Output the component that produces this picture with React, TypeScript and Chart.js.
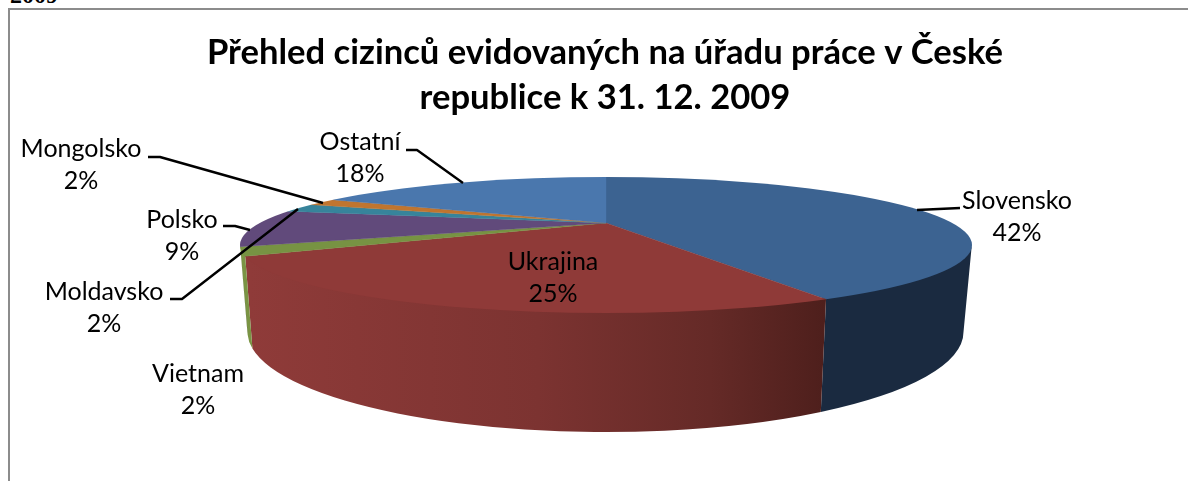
import React, { useEffect, useRef } from "react";
import { Chart, registerables } from "chart.js";

Chart.register(...registerables);

const categories = ["Slovensko", "Ukrajina", "Vietnam", "Polsko", "Moldavsko", "Mongolsko", "Ostatní"];
const shares = [42.2, 25.45, 2.0, 8.5, 2.0, 1.7, 18.15];
const titleLines = ["Přehled cizinců evidovaných na úřadu práce v České", "republice k 31. 12. 2009"];

const topColors = ["#3c6391", "#8f3a38", "#779343", "#614a7b", "#37849b", "#c0752f", "#4a77ad"];
const wallStops: string[][] = [
  ["#1d3049", "#1d3049", "#1c2f47", "#1a2a40"],
  ["#8f3b39", "#7c3331", "#652a27", "#4e1f1c"],
  ["#7a9444", "#7a9444", "#7a9444", "#7a9444"],
  ["#4a3860", "#4a3860", "#4a3860", "#4a3860"],
  ["#2a6475", "#2a6475", "#2a6475", "#2a6475"],
  ["#915824", "#915824", "#915824", "#915824"],
  ["#38598a", "#38598a", "#38598a", "#38598a"],
];
const stopAt = [0, 0.5, 0.8, 1];

const CANVAS_LEFT = 16;
const TOP_RIM = { cx: 606, cy: 245, rx: 366, ry: 68 };
const BOTTOM_RIM = { cx: 605.5, cy: 332, rx: 358, ry: 100 };
const APEX = { x: 606, y: 223 };
const TILT = 0.185;
const DRAW_RADIUS = 560;

const labelPlaces: Record<string, [number, number]> = {
  Slovensko: [1017, 209],
  Ukrajina: [553, 270],
  Vietnam: [198, 382],
  Polsko: [182, 228],
  Moldavsko: [104, 300],
  Mongolsko: [81, 157],
  "Ostatní": [360, 150],
};

const leaders: [number, number][][] = [
  [[148, 157], [160, 157], [323, 203]],
  [[223, 226], [235, 226], [250, 230]],
  [[170, 299], [182, 299], [298, 209]],
  [[406, 150], [417, 150], [463, 183]],
  [[917, 210], [960, 208]],
];

function rimParam(angle: number) {
  const dx = Math.cos(angle);
  const dy = TILT * Math.sin(angle);
  const ax = (APEX.x - TOP_RIM.cx) / TOP_RIM.rx;
  const ay = (APEX.y - TOP_RIM.cy) / TOP_RIM.ry;
  const ux = dx / TOP_RIM.rx;
  const uy = dy / TOP_RIM.ry;
  const a = ux * ux + uy * uy;
  const b = 2 * (ax * ux + ay * uy);
  const c = ax * ax + ay * ay - 1;
  const l = (-b + Math.sqrt(b * b - 4 * a * c)) / (2 * a);
  return Math.atan2(ay + uy * l, ax + ux * l);
}

const pie3d = {
  id: "pie3d",
  beforeDatasetsDraw(chart: any) {
    const ctx = chart.ctx;
    const arcs = chart.getDatasetMeta(0).data;
    ctx.save();
    ctx.translate(-CANVAS_LEFT, 0);
    arcs.forEach((arc: any, i: number) => {
      let t0 = rimParam(arc.startAngle);
      let t1 = rimParam(arc.endAngle);
      if (t1 < t0) t1 += Math.PI * 2;
      if (t0 < -Math.PI / 2 - 0.01) t0 += Math.PI * 2;
      const from = Math.max(t0, 0);
      const to = Math.min(t1, Math.PI);
      if (to <= from) return;
      const g = ctx.createLinearGradient(250, 0, 825, 0);
      stopAt.forEach((p, n) => g.addColorStop(p, wallStops[i][n]));
      ctx.fillStyle = g;
      ctx.beginPath();
      ctx.ellipse(TOP_RIM.cx, TOP_RIM.cy - 2, TOP_RIM.rx, TOP_RIM.ry, 0, from, to);
      ctx.ellipse(BOTTOM_RIM.cx, BOTTOM_RIM.cy, BOTTOM_RIM.rx, BOTTOM_RIM.ry, 0, to, from, true);
      ctx.closePath();
      ctx.fill();
    });
    ctx.beginPath();
    ctx.ellipse(TOP_RIM.cx, TOP_RIM.cy, TOP_RIM.rx, TOP_RIM.ry, 0, 0, Math.PI * 2);
    ctx.clip();
    const first = arcs[0];
    const k = DRAW_RADIUS / first.outerRadius;
    ctx.translate(APEX.x, APEX.y);
    ctx.scale(k, k * TILT);
    ctx.translate(-first.x, -first.y);
  },
  afterDatasetsDraw(chart: any) {
    const ctx = chart.ctx;
    ctx.restore();
    ctx.save();
    ctx.translate(-CANVAS_LEFT, 0);
    ctx.strokeStyle = "#000000";
    ctx.lineWidth = 2.4;
    ctx.lineJoin = "round";
    leaders.forEach((pts) => {
      ctx.beginPath();
      pts.forEach(([x, y], i) => (i ? ctx.lineTo(x, y) : ctx.moveTo(x, y)));
      ctx.stroke();
    });
    const total = shares.reduce((a, b) => a + b, 0);
    ctx.fillStyle = "#000000";
    ctx.font = "25px Lato";
    ctx.textAlign = "center";
    ctx.textBaseline = "alphabetic";
    categories.forEach((name, i) => {
      const [x, y] = labelPlaces[name];
      ctx.fillText(name, x, y);
      ctx.fillText(`${Math.round((shares[i] / total) * 100)}%`, x, y + 32);
    });
    ctx.restore();
  },
};

export default function App() {
  const ref = useRef<HTMLCanvasElement>(null);
  useEffect(() => {
    const chart = new Chart(ref.current!, {
      type: "pie",
      data: {
        labels: categories,
        datasets: [
          {
            data: shares,
            backgroundColor: topColors,
            borderColor: topColors,
            borderWidth: 0.2,
          },
        ],
      },
      options: {
        responsive: false,
        animation: false,
        layout: { padding: 0 },
        plugins: {
          legend: { display: false },
          tooltip: { enabled: false },
          title: {
            display: true,
            text: titleLines,
            color: "#000000",
            font: { family: "Lato", weight: "bold", size: 34.6, lineHeight: 1.3 },
            padding: { top: 30, bottom: 10 },
          },
        },
      },
      plugins: [pie3d],
    } as any);
    return () => chart.destroy();
  }, []);
  return (
    <div style={{ position: "fixed", inset: 0, overflow: "hidden", background: "#fff" }}>
      <div
        style={{
          position: "absolute",
          left: 10,
          top: -21,
          font: "bold 24px 'Liberation Serif'",
          lineHeight: "32px",
          color: "#000",
        }}
      >
        2009
      </div>
      <div
        style={{
          position: "absolute",
          left: 8,
          top: 8,
          right: 0,
          bottom: 0,
          borderLeft: "2px solid #8c8c8c",
          borderTop: "2px solid #8c8c8c",
        }}
      />
      <canvas ref={ref} width={1178} height={481} style={{ position: "absolute", left: CANVAS_LEFT, top: 0 }} />
    </div>
  );
}
